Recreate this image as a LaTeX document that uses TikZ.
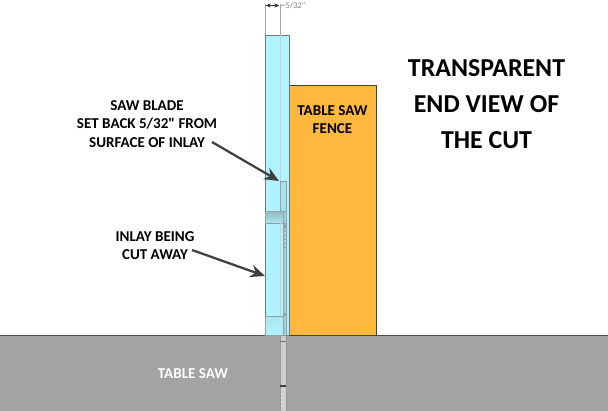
\documentclass[tikz,border=0pt]{standalone}
\usepackage{fontspec}
\setmainfont{Carlito}[Ligatures=TeXOff]
\usetikzlibrary{arrows.meta}
\definecolor{acrylic}{RGB}{176,242,254}
\definecolor{fence}{RGB}{253,184,61}
\definecolor{sawtop}{RGB}{163,163,163}
\definecolor{edgegrey}{RGB}{110,120,125}
\definecolor{arrowgrey}{RGB}{64,64,64}
\tikzset{
  heading/.style={font=\bfseries\fontsize{19.4}{27}\selectfont,align=center,text=black,inner sep=0pt},
  callout/.style={font=\bfseries\fontsize{11.3}{13.6}\selectfont,align=center,text=black,inner sep=0pt},
  pointer/.style={draw=arrowgrey,line width=1.7pt,-{Stealth[length=11pt,width=9.5pt]}},
  dimline/.style={draw=gray!70,line width=0.4pt},
  bladeline/.style={draw=edgegrey!70,line width=0.5pt}
}
\begin{document}
\begin{tikzpicture}[x=0.75pt,y=0.75pt,yscale=-1,xscale=1]
\useasboundingbox (0,0) rectangle (608,411);

%Table saw top
\fill [sawtop] (0,335) rectangle (608,411);
\draw [draw=black!70,line width=0.5pt] (0,335) -- (608,335);
%Fence
\draw [fill=fence,draw=black!75,line width=0.5pt] (289,85) rectangle (376,335);
%Transparent board
\draw [fill=acrylic,draw=edgegrey,line width=0.7pt] (265,35) rectangle (289,335);
\draw [bladeline,draw=edgegrey!35] (280,35) -- (280,181);

%Inlay cut away
\draw [bladeline,top color=acrylic!55!edgegrey,bottom color=acrylic!90!edgegrey] (265,211) rectangle (283,223);
\draw [bladeline,top color=acrylic!90!edgegrey,bottom color=acrylic] (265,316) rectangle (283,335);

%Saw blade
\draw [bladeline,fill=acrylic!85!edgegrey] (280,181) rectangle (286,211);
\draw [bladeline,draw=edgegrey!35] (280,223) -- (280,316);
\draw [bladeline,fill=acrylic!75!edgegrey] (283,211) rectangle (286,335);
\foreach \y in {227,231,...,247} {
  \draw [bladeline] (283,\y) -- (286,\y);
}
\draw [bladeline,fill=edgegrey!60] (283,223) rectangle (286,226);
\draw [bladeline,fill=edgegrey!60] (283,313) rectangle (286,315);

%Blade below the table
\draw [draw=black!40,fill=black!20,line width=0.5pt] (280,335) rectangle (286,411);
\draw [draw=black!75,line width=0.8pt] (280,386) -- (286,386);
\foreach \y in {390,394,...,406} {
  \draw [draw=white!85!black,line width=0.9pt] (281,\y) -- (285,\y);
}
\draw [draw=black!55,line width=0.5pt] (280,341) -- (286,341);

%Dimension
\coordinate (dimlefttop) at (265,4);
\coordinate (dimleftfoot) at (265,35);
\coordinate (dimrighttop) at (280,4);
\coordinate (dimrightfoot) at (280,35);
\coordinate (dimarrowl) at (265.5,5.5);
\coordinate (dimarrowr) at (279.5,5.5);
\coordinate (dimmid) at (272.5,5.5);
\draw [dimline] (dimlefttop) -- (dimleftfoot);
\draw [dimline] (dimrighttop) -- (dimrightfoot);
\draw [draw=black!80,line width=0.4pt,-{Stealth[length=4pt,width=3pt]}] (dimmid) -- (dimarrowl);
\draw [draw=black!80,line width=0.4pt,-{Stealth[length=4pt,width=3pt]}] (dimmid) -- (dimarrowr);

% Text Node
\node (dimtext) [anchor=west,inner sep=0pt,text=black!50,font=\fontsize{6.5}{8}\selectfont] at (285,5.5) {5/32"};
\draw [dimline] (dimarrowr) -- (dimtext.west);
% Text Node
\node (titletext) [heading] at (486.5,104.5) {TRANSPARENT\\END VIEW OF\\THE CUT};
% Text Node
\node (fencetext) [callout] at (332.5,119.5) {TABLE SAW\\FENCE};
% Text Node
\node (bladetext) [callout] at (147,124) {SAW BLADE\\SET BACK 5/32" FROM\\SURFACE OF INLAY};
% Text Node
\node (inlaytext) [callout] at (155,245.5) {INLAY BEING\\CUT AWAY};
% Text Node
\node (sawtext) [callout,text=white] at (193,373.5) {TABLE SAW};

%Pointers
\coordinate (bladetip) at (279,181);
\coordinate (inlaytip) at (265,276);
\draw [pointer] (212,142) -- (bladetip);
\draw [pointer] (192,250) -- (inlaytip);

\end{tikzpicture}
\end{document}
